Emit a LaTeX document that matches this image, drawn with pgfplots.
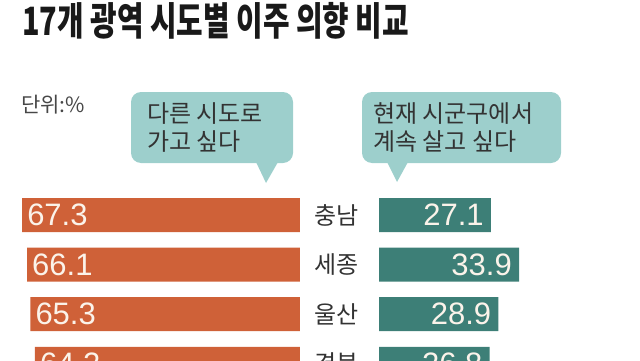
\documentclass[border=0pt]{standalone}
\usepackage{fontspec}
\setmainfont{Liberation Sans}
\newfontfamily\kr{Noto Sans CJK KR}
\usepackage{pgfplots}
\pgfplotsset{compat=1.18}
\definecolor{bOrange}{HTML}{CF6138}
\definecolor{bTeal}{HTML}{3D7F77}
\definecolor{bubble}{HTML}{9DCFCC}
\definecolor{txt}{HTML}{333333}
\definecolor{cream}{HTML}{FBF3EA}
\begin{document}
\begin{tikzpicture}[x=1bp,y=1bp]
\useasboundingbox (0,0) rectangle (640,360);
\clip (0,0) rectangle (640,360);
% title
\node[anchor=base west, inner sep=0, text=black!90, font=\kr\bfseries\fontsize{39bp}{39bp}\selectfont] at (22,325) {\scalebox{0.74}[1]{17개 광역 시도별 이주 의향 비교}};
\node[anchor=base west, inner sep=0, text=txt!90, font=\kr\fontsize{21bp}{21bp}\selectfont] at (21,248) {단위:\%};
% bubbles
\fill[bubble, rounded corners=10bp] (131,197) rectangle (293,268);
\fill[bubble] (256,198) -- (266,177) -- (278,198) -- cycle;
\fill[bubble, rounded corners=10bp] (362,197) rectangle (561,268);
\fill[bubble] (387,198) -- (397,178) -- (408,198) -- cycle;
\begin{scope}[every node/.style={anchor=base west, inner sep=0, text=txt, font=\kr\fontsize{24bp}{24bp}\selectfont}]
\node at (147,238) {다른 시도로};
\node at (147,210) {가고 싶다};
\node at (373,238) {현재 시군구에서};
\node at (373,210) {계속 살고 싶다};
\end{scope}
% left bars
\begin{axis}[
  at={(0bp,-28.6bp)}, anchor=south west,
  scale only axis, width=300bp, height=198.4bp,
  xbar, bar width=34bp,
  x dir=reverse, xmin=0, xmax=72.64,
  y dir=reverse, ymin=0.5, ymax=4.5,
  enlargelimits=false,
  axis line style={draw=none}, tick style={draw=none},
  xtick=\empty, ytick=\empty,
  clip=false,
  nodes near coords,
  every node near coord/.append style={anchor=west, inner sep=0, xshift=5bp, text=cream,
    font=\fontsize{31bp}{31bp}\selectfont,
    /pgf/number format/fixed, /pgf/number format/precision=1,
    /pgf/number format/fixed zerofill, /pgf/number format/assume math mode=true},
]
\addplot[fill=bOrange, draw=none] coordinates {(67.3,1) (66.1,2) (65.3,3) (64.2,4)};
\end{axis}
% right bars
\begin{axis}[
  at={(379bp,-28.6bp)}, anchor=south west,
  scale only axis, width=261bp, height=198.4bp,
  xbar, bar width=34bp,
  xmin=0, xmax=63.2,
  y dir=reverse, ymin=0.5, ymax=4.5,
  enlargelimits=false,
  axis line style={draw=none}, tick style={draw=none},
  xtick=\empty,
  ytick={1,2,3,4}, yticklabels={충남,세종,울산,경북},
  yticklabel style={font=\kr\fontsize{24bp}{24bp}\selectfont, text=txt, anchor=center, xshift=-38bp},
  clip=false,
  nodes near coords,
  every node near coord/.append style={anchor=east, inner sep=0, xshift=-7bp, text=cream,
    font=\fontsize{31bp}{31bp}\selectfont,
    /pgf/number format/fixed, /pgf/number format/precision=1,
    /pgf/number format/fixed zerofill, /pgf/number format/assume math mode=true},
]
\addplot[fill=bTeal, draw=none] coordinates {(27.1,1) (33.9,2) (28.9,3) (26.8,4)};
\end{axis}
\end{tikzpicture}
\end{document}
